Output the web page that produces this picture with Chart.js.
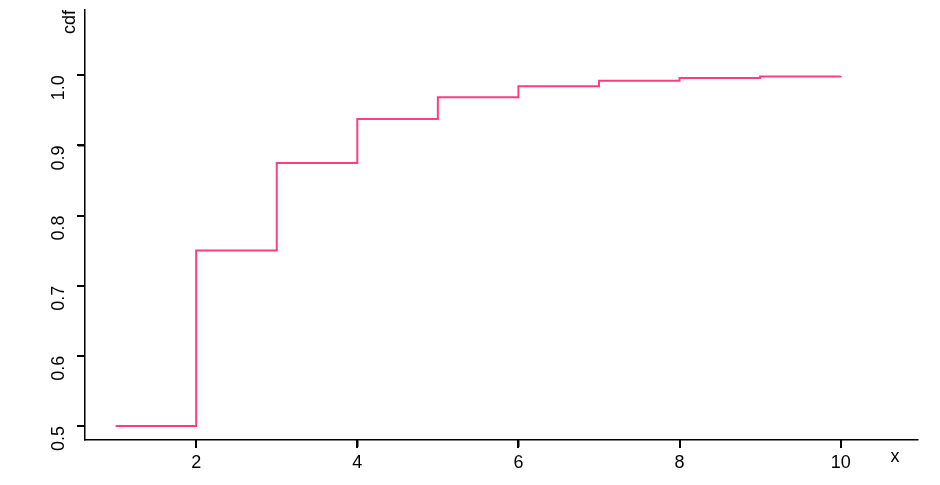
<!DOCTYPE html>
<html>
<head>
<meta charset="utf-8">
<script src="https://cdn.jsdelivr.net/npm/chart.js@4/dist/chart.umd.min.js"></script>
<style>
html,body{margin:0;padding:0;background:#fff;}
#wrap{width:940px;height:485px;}
</style>
</head>
<body>
<div id="wrap"><canvas id="c" width="940" height="485"></canvas></div>
<script>
const xValues = [1, 2, 3, 4, 5, 6, 7, 8, 9, 10];
const cdfValues = [0.5, 0.75, 0.875, 0.9375, 0.96875, 0.984375, 0.9921875, 0.99609375, 0.998046875, 0.9990234375];
const xTicks = [2, 4, 6, 8, 10];
const yTicks = [0.5, 0.6, 0.7, 0.8, 0.9, 1.0];
const xLabel = 'x';
const yLabel = 'cdf';

const FONT = '"Liberation Sans", Arial, sans-serif';

const labelsPlugin = {
  id: 'axisLabels',
  afterDraw(chart) {
    const ctx = chart.ctx;
    const xs = chart.scales.x, ys = chart.scales.y;
    const area = chart.chartArea;
    ctx.save();
    ctx.fillStyle = '#000000';
    xTicks.forEach(v => {
      const px = Math.round(xs.getPixelForValue(v));
      ctx.fillRect(px - 1, area.bottom, 2, 8);
    });
    yTicks.forEach(v => {
      const py = Math.round(ys.getPixelForValue(v));
      ctx.fillRect(area.left - 8, py - 1, 8, 2);
    });
    ctx.font = '18px ' + FONT;
    ctx.textAlign = 'center';
    ctx.textBaseline = 'middle';
    ctx.fillText(xLabel, 895, 457);
    ctx.translate(70, 22);
    ctx.rotate(-Math.PI / 2);
    ctx.fillText(yLabel, 0, 0);
    ctx.restore();
  }
};

new Chart(document.getElementById('c'), {
  type: 'line',
  data: {
    datasets: [{
      data: xValues.map((x, i) => ({x: x, y: cdfValues[i]})),
      borderColor: '#ff3d7f',
      borderWidth: 2,
      pointRadius: 0,
      stepped: 'before',
      fill: false
    }]
  },
  options: {
    responsive: false,
    animation: false,
    layout: {padding: {top: 10, right: 22, left: 0, bottom: 0}},
    plugins: {legend: {display: false}, tooltip: {enabled: false}},
    scales: {
      x: {
        type: 'linear',
        min: 0.62,
        max: 10.96,
        afterBuildTicks(scale) { scale.ticks = xTicks.map(v => ({value: v})); },
        afterFit(scale) { scale.height = 45; scale.paddingLeft = 0; scale.paddingRight = 0; },
        grid: {display: true, drawOnChartArea: false, drawTicks: true, tickLength: 7, color: '#000', lineWidth: 1.5},
        border: {display: true, color: '#000', width: 1.5},
        ticks: {color: '#000', font: {family: FONT, size: 18}, padding: 5, maxRotation: 0, minRotation: 0}
      },
      y: {
        type: 'linear',
        min: 0.48,
        max: 1.093,
        afterBuildTicks(scale) { scale.ticks = yTicks.map(v => ({value: v})); },
        afterFit(scale) { scale.width = 85; scale.paddingTop = 0; scale.paddingBottom = 0; },
        grid: {display: true, drawOnChartArea: false, drawTicks: true, tickLength: 7, color: '#000', lineWidth: 1.5},
        border: {display: true, color: '#000', width: 1.5},
        ticks: {color: '#000', font: {family: FONT, size: 18}, padding: 19, minRotation: 90, maxRotation: 90,
          callback: v => v.toFixed(1)}
      }
    }
  },
  plugins: [labelsPlugin]
});
</script>
</body>
</html>
